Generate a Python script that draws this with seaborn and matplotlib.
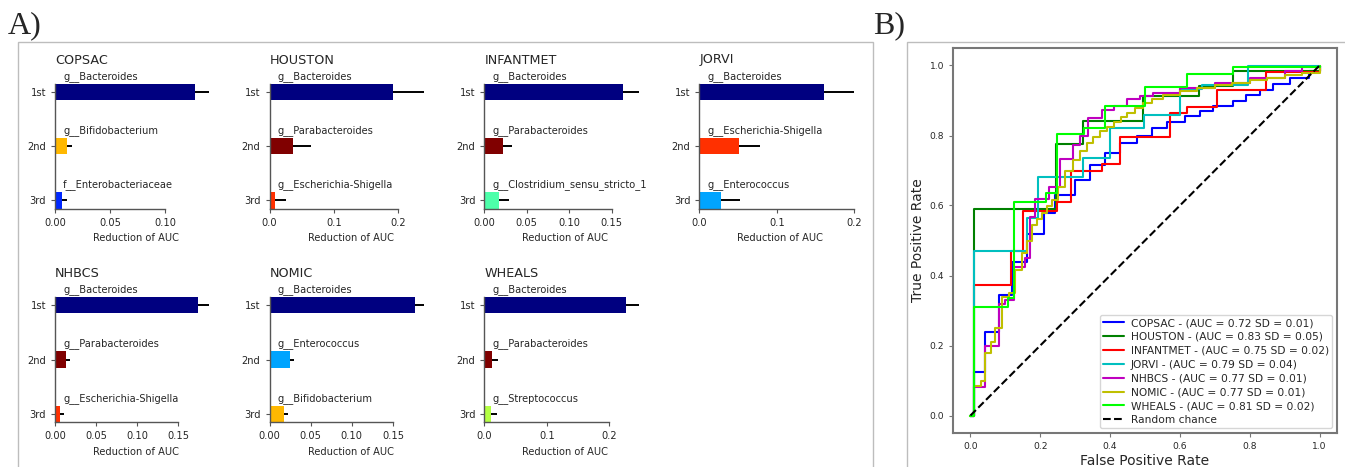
import matplotlib
matplotlib.use('Agg')
import matplotlib.pyplot as plt
from matplotlib.patches import Rectangle
from matplotlib.ticker import MultipleLocator
import numpy as np
import seaborn as sns

ranks = ['1st', '2nd', '3rd']
cohorts = ['COPSAC', 'HOUSTON', 'INFANTMET', 'JORVI', 'NHBCS', 'NOMIC', 'WHEALS']

# top 3 taxa per cohort: mean reduction of AUC and its SD
copsac_taxa = ['g__Bacteroides', 'g__Bifidobacterium', 'f__Enterobacteriaceae']
copsac_drop = [0.127, 0.0106, 0.0067]
copsac_sd = [0.013, 0.0045, 0.004]

houston_taxa = ['g__Bacteroides', 'g__Parabacteroides', 'g__Escherichia-Shigella']
houston_drop = [0.191, 0.0363, 0.0093]
houston_sd = [0.048, 0.028, 0.016]

infantmet_taxa = ['g__Bacteroides', 'g__Parabacteroides', 'g__Clostridium_sensu_stricto_1']
infantmet_drop = [0.1635, 0.0217, 0.0173]
infantmet_sd = [0.018, 0.011, 0.012]

jorvi_taxa = ['g__Bacteroides', 'g__Escherichia-Shigella', 'g__Enterococcus']
jorvi_drop = [0.161, 0.0516, 0.0282]
jorvi_sd = [0.038, 0.027, 0.024]

nhbcs_taxa = ['g__Bacteroides', 'g__Parabacteroides', 'g__Escherichia-Shigella']
nhbcs_drop = [0.174, 0.0134, 0.0061]
nhbcs_sd = [0.014, 0.005, 0.005]

nomic_taxa = ['g__Bacteroides', 'g__Enterococcus', 'g__Bifidobacterium']
nomic_drop = [0.177, 0.0252, 0.0179]
nomic_sd = [0.0105, 0.005, 0.0045]

wheals_taxa = ['g__Bacteroides', 'g__Parabacteroides', 'g__Streptococcus']
wheals_drop = [0.2273, 0.0128, 0.0102]
wheals_sd = [0.0197, 0.0097, 0.0096]

xtick_steps = [0.05, 0.1, 0.05, 0.1, 0.05, 0.05, 0.1]

# mean ROC curves (step vertices)
fpr_copsac = [0, 0.01, 0.043, 0.081, 0.119, 0.162, 0.21, 0.243, 0.30, 0.343, 0.386, 0.429, 0.476,
              0.519, 0.562, 0.614, 0.657, 0.695, 0.752, 0.79, 0.829, 0.867, 0.914, 0.971, 1.0]
tpr_copsac = [0, 0.124, 0.239, 0.344, 0.439, 0.52, 0.578, 0.63, 0.673, 0.716, 0.75, 0.778, 0.80,
              0.821, 0.839, 0.855, 0.869, 0.883, 0.90, 0.917, 0.931, 0.946, 0.965, 0.985, 1.0]

fpr_houston = [0, 0.01, 0.245, 0.323, 0.495, 0.655, 0.752, 1.0]
tpr_houston = [0, 0.589, 0.776, 0.842, 0.912, 0.941, 0.984, 1.0]

fpr_infantmet = [0, 0.01, 0.117, 0.15, 0.248, 0.288, 0.376, 0.429, 0.571, 0.619, 0.707, 0.848, 1.0]
tpr_infantmet = [0, 0.372, 0.47, 0.585, 0.611, 0.699, 0.719, 0.795, 0.865, 0.882, 0.931, 0.981, 1.0]

fpr_jorvi = [0, 0.01, 0.162, 0.193, 0.323, 0.40, 0.497, 0.60, 0.662, 0.795, 1.0]
tpr_jorvi = [0, 0.471, 0.564, 0.681, 0.735, 0.821, 0.86, 0.933, 0.945, 0.998, 1.0]

fpr_nhbcs = [0, 0.01, 0.043, 0.083, 0.10, 0.124, 0.155, 0.171, 0.186, 0.224, 0.257, 0.295, 0.314,
             0.338, 0.376, 0.41, 0.448, 0.486, 0.523, 0.6, 0.7, 0.8, 0.9, 0.95, 1.0]
tpr_nhbcs = [0, 0.081, 0.199, 0.32, 0.33, 0.425, 0.45, 0.568, 0.62, 0.654, 0.733, 0.774, 0.80,
             0.85, 0.874, 0.885, 0.903, 0.914, 0.922, 0.935, 0.95, 0.965, 0.985, 0.995, 1.0]

fpr_nomic = [0, 0.01, 0.03, 0.043, 0.06, 0.071, 0.09, 0.11, 0.129, 0.148, 0.162, 0.176, 0.19, 0.205,
             0.22, 0.233, 0.25, 0.27, 0.295, 0.315, 0.333, 0.35, 0.371, 0.39, 0.41, 0.43, 0.448,
             0.47, 0.495, 0.52, 0.552, 0.6, 0.648, 0.7, 0.75, 0.8, 0.85, 0.9, 0.95, 1.0]
tpr_nomic = [0, 0.085, 0.1, 0.178, 0.21, 0.25, 0.339, 0.35, 0.415, 0.463, 0.5, 0.544, 0.56, 0.578,
             0.6, 0.616, 0.654, 0.7, 0.73, 0.755, 0.778, 0.795, 0.812, 0.825, 0.84, 0.852, 0.864,
             0.878, 0.893, 0.905, 0.917, 0.928, 0.936, 0.943, 0.95, 0.958, 0.965, 0.973, 0.98, 1.0]

fpr_wheals = [0, 0.011, 0.108, 0.125, 0.216, 0.247, 0.326, 0.385, 0.50, 0.62, 0.752, 1.0]
tpr_wheals = [0, 0.31, 0.335, 0.611, 0.637, 0.805, 0.821, 0.883, 0.94, 0.977, 0.995, 1.0]

auc_mean = [0.72, 0.83, 0.75, 0.79, 0.77, 0.77, 0.81]
auc_sd = [0.01, 0.05, 0.02, 0.04, 0.01, 0.01, 0.02]
chance = [0, 1]

taxon_colors = {
    'g__Bacteroides': '#000080',
    'g__Bifidobacterium': '#ffb800',
    'f__Enterobacteriaceae': '#0028ff',
    'g__Parabacteroides': '#800000',
    'g__Escherichia-Shigella': '#ff3000',
    'g__Clostridium_sensu_stricto_1': '#4dffaa',
    'g__Enterococcus': '#00a4ff',
    'g__Streptococcus': '#b4ff43',
}
roc_colors = ['b', 'g', 'r', 'c', 'm', 'y', 'lime']

bar_data = [(copsac_taxa, copsac_drop, copsac_sd), (houston_taxa, houston_drop, houston_sd),
            (infantmet_taxa, infantmet_drop, infantmet_sd), (jorvi_taxa, jorvi_drop, jorvi_sd),
            (nhbcs_taxa, nhbcs_drop, nhbcs_sd), (nomic_taxa, nomic_drop, nomic_sd),
            (wheals_taxa, wheals_drop, wheals_sd)]
roc_data = [(fpr_copsac, tpr_copsac), (fpr_houston, tpr_houston), (fpr_infantmet, tpr_infantmet),
            (fpr_jorvi, tpr_jorvi), (fpr_nhbcs, tpr_nhbcs), (fpr_nomic, tpr_nomic),
            (fpr_wheals, tpr_wheals)]

sns.set_style('ticks')
plt.rcParams['font.family'] = ['DejaVu Sans']
plt.rcParams['xtick.major.size'] = 3
plt.rcParams['ytick.major.size'] = 3
plt.rcParams['axes.edgecolor'] = '#555555'
plt.rcParams['axes.linewidth'] = 1.0

W, H = 1345, 467
fig = plt.figure(figsize=(W / 100, H / 100), dpi=100)

# panel frames and letters
fig.add_artist(Rectangle((18 / W, -0.1), (873 - 18) / W, 1.1 - 42 / H, fill=False,
                         edgecolor='#bdbdbd', lw=1, transform=fig.transFigure))
fig.add_artist(Rectangle((907 / W, -0.1), 0.5, 1.1 - 42 / H, fill=False,
                         edgecolor='#bdbdbd', lw=1, transform=fig.transFigure))
fig.text(8 / W, 1 - 33 / H, 'A)', family='Liberation Serif', fontsize=23, va='baseline')
fig.text(873 / W, 1 - 33 / H, 'B)', family='Liberation Serif', fontsize=23, va='baseline')

# Panel A: feature importance bars
col_left = [55, 269.5, 484.3, 699.3]
row_top = [83.5, 297]
for k, (name, (taxa, drop, sd)) in enumerate(zip(cohorts, bar_data)):
    r, c = divmod(k, 4)
    ax = fig.add_axes([col_left[c] / W, 1 - (row_top[r] + 125) / H, 162 / W, 125 / H])
    sns.barplot(x=drop, y=ranks, hue=ranks, orient='h', width=0.3, saturation=1,
                palette=dict(zip(ranks, [taxon_colors[t] for t in taxa])),
                legend=False, errorbar=None, linewidth=0, ax=ax)
    ax.errorbar(drop, np.arange(3), xerr=sd, fmt='none', ecolor='black',
                elinewidth=1.4, capsize=0, zorder=0.5)
    ax.set_ylim(2.15, -0.15)
    ax.set_xlim(left=0)
    ax.xaxis.set_major_locator(MultipleLocator(xtick_steps[k]))
    sns.despine(ax=ax)
    ticks = [t for t in ax.get_xticks() if t <= ax.get_xlim()[1] + 1e-9]
    ax.spines['bottom'].set_bounds(0, ticks[-1])
    ax.tick_params(labelsize=7.1, colors='#555555', labelcolor='#262626')
    ax.set_ylabel('')
    ax.set_xlabel('Reduction of AUC', fontsize=7.1)
    ax.set_title(name, loc='left', fontsize=9.2, pad=14.4)
    for i, t in enumerate(taxa):
        ax.annotate(t, xy=(0, i - 0.24), xytext=(5.8, 0), textcoords='offset points',
                    va='baseline', fontsize=7.1, annotation_clip=False)

# Panel B: ROC curves
ax = fig.add_axes([953 / W, 1 - 433 / H, 384 / W, 385 / H])
for name, (fpr, tpr), col, m, s in zip(cohorts, roc_data, roc_colors, auc_mean, auc_sd):
    sns.lineplot(x=fpr, y=tpr, sort=False, estimator=None, drawstyle='steps-post',
                 color=col, lw=1.5, label=f'{name} - (AUC = {m:.2f} SD = {s:.2f})', ax=ax)
sns.lineplot(x=chance, y=chance, sort=False, estimator=None, color='k', lw=1.5,
             linestyle='--', label='Random chance', ax=ax)
ax.set_xlim(-0.05, 1.05)
ax.set_ylim(-0.05, 1.05)
ax.xaxis.set_major_locator(MultipleLocator(0.2))
ax.yaxis.set_major_locator(MultipleLocator(0.2))
for sp in ax.spines.values():
    sp.set_color('#777777')
    sp.set_linewidth(1.5)
ax.tick_params(labelsize=6.6, colors='#777777', labelcolor='#262626')
ax.set_xlabel('False Positive Rate', fontsize=10, labelpad=2)
ax.set_ylabel('True Positive Rate', fontsize=10, labelpad=3)
ax.legend(loc='lower right', fontsize=7.7, labelspacing=0.36, handlelength=2.0,
          handletextpad=0.6, borderpad=0.3, borderaxespad=0.45)

fig.savefig('out.png', dpi=100)
